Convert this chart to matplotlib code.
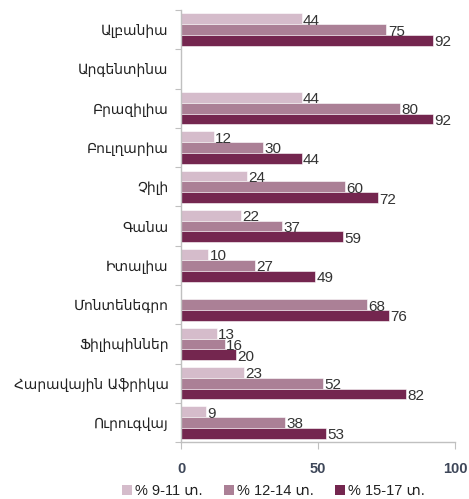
import matplotlib
matplotlib.use("Agg")
import matplotlib.pyplot as plt
from matplotlib.patches import Patch
import numpy as np

countries = ["Ալբանիա", "Արգենտինա", "Բրազիլիա", "Բուլղարիա", "Չիլի", "Գանա",
             "Իտալիա", "Մոնտենեգրո", "Ֆիլիպիններ", "Հարավային Աֆրիկա", "Ուրուգվայ"]
series_names = ["% 9-11 տ.", "% 12-14 տ.", "% 15-17 տ."]
age_9_11 = [44, None, 44, 12, 24, 22, 10, None, 13, 23, 9]
age_12_14 = [75, None, 80, 30, 60, 37, 27, 68, 16, 52, 38]
age_15_17 = [92, None, 92, 44, 72, 59, 49, 76, 20, 82, 53]
x_ticks = [0, 50, 100]

colors = ["#d5bccb", "#ab8096", "#74264f"]

plt.rcParams["font.family"] = ["Liberation Sans", "DejaVu Sans"]

fig = plt.figure(figsize=(4.69, 4.99), dpi=100)
ax = fig.add_axes([0.386, 0.114, 0.584, 0.866])

y = np.arange(len(countries))
h = 0.275
offsets = [-h, 0, h]
for series, off, col in zip([age_9_11, age_12_14, age_15_17], offsets, colors):
    for yi, v in zip(y, series):
        if v is None:
            continue
        ax.barh(yi + off, v, height=h, color=col, edgecolor="white", linewidth=0.4)
        ax.text(v + 0.5, yi + off + 0.05, str(v), va="center", ha="left",
                fontsize=11, color="#333333")

ax.set_xlim(0, 100)
ax.set_ylim(len(countries) - 0.5, -0.5)

for s in ["top", "right"]:
    ax.spines[s].set_visible(False)
for s in ["left", "bottom"]:
    ax.spines[s].set_color("#c0c0c0")
    ax.spines[s].set_linewidth(1.0)

ax.set_xticks(x_ticks)
ax.set_xticklabels([str(t) for t in x_ticks], fontsize=10.5, fontweight="bold",
                   color="#3e4759")
ax.tick_params(axis="x", length=5, color="#c0c0c0", pad=9)

ax.set_yticks(np.arange(-0.5, len(countries), 1.0))
ax.set_yticklabels([])
ax.tick_params(axis="y", which="major", length=4, color="#c0c0c0")
ax.set_yticks(y, minor=True)
ax.set_yticklabels(countries, minor=True, fontsize=10, color="#222222",
                   family=["DejaVu Sans"])
ax.tick_params(axis="y", which="minor", length=0, pad=9)

handles = [Patch(facecolor=c, edgecolor="none") for c in colors]
fig.legend(handles, series_names, loc="center", bbox_to_anchor=(0.583, 0.016),
           ncol=3, frameon=False, fontsize=10.5, handlelength=0.65, handleheight=0.65,
           handletextpad=0.2, columnspacing=1.5, labelcolor="#222222")

fig.savefig("out.png", dpi=100)
